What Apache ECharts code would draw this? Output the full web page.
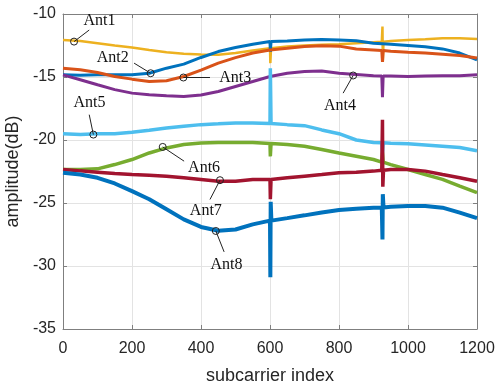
<!DOCTYPE html>
<html>
<head>
<meta charset="utf-8">
<script src="https://cdn.jsdelivr.net/npm/echarts@6/dist/echarts.min.js"></script>
<style>
  html, body { margin: 0; padding: 0; background: #fff; }
  #box { width: 499px; height: 384px; }
</style>
</head>
<body>
<div id="box"></div>
<script>
const subcarriers = [0, 50, 100, 150, 200, 250, 300, 350, 400, 450, 500, 550, 600,
  650, 700, 750, 800, 850, 900, 950, 1000, 1050, 1100, 1150, 1200];

// amplitude (dB) of each antenna
const ant1 = [-12.06, -12.14, -12.32, -12.5, -12.66, -12.85, -13.03, -13.16, -13.22, -13.24, -13.1, -12.9, -12.72,
  -12.58, -12.5, -12.45, -12.4, -12.32, -12.24, -12.15, -12.06, -12.0, -11.93, -11.93, -11.98];
const ant2 = [-14.83, -14.86, -14.83, -14.83, -14.83, -14.7, -14.3, -13.98, -13.45, -12.98, -12.66, -12.4, -12.19,
  -12.14, -12.06, -12.02, -12.06, -12.12, -12.32, -12.4, -12.5, -12.6, -12.77, -13.1, -13.64];
const ant3 = [-14.3, -14.43, -14.64, -14.96, -15.17, -15.36, -15.3, -14.96, -14.45, -13.9, -13.46, -13.1, -12.85,
  -12.72, -12.58, -12.52, -12.55, -12.77, -12.85, -12.95, -13.03, -13.1, -13.19, -13.3, -13.5];
const ant4 = [-14.83, -15.22, -15.62, -16.0, -16.28, -16.4, -16.49, -16.54, -16.43, -16.15, -15.75, -15.36, -14.96,
  -14.7, -14.56, -14.52, -14.7, -14.8, -14.9, -14.93, -14.96, -14.93, -14.9, -14.9, -14.83];
const ant5 = [-19.5, -19.57, -19.5, -19.5, -19.39, -19.23, -19.04, -18.9, -18.78, -18.72, -18.65, -18.65, -18.7,
  -18.78, -18.86, -19.2, -19.5, -20.0, -20.2, -20.25, -20.3, -20.4, -20.5, -20.6, -20.85];
const ant6 = [-22.34, -22.34, -22.29, -21.95, -21.55, -21.03, -20.63, -20.36, -20.23, -20.2, -20.2, -20.2, -20.28,
  -20.35, -20.5, -20.75, -21.03, -21.29, -21.55, -21.95, -22.34, -22.74, -23.13, -23.66, -24.18];
const ant7 = [-22.34, -22.45, -22.55, -22.65, -22.74, -22.8, -22.87, -23.0, -23.13, -23.27, -23.27, -23.13, -23.13,
  -23.0, -22.87, -22.74, -22.6, -22.55, -22.47, -22.34, -22.34, -22.47, -22.74, -23.0, -23.27];
const ant8 = [-22.6, -22.74, -23.0, -23.45, -24.06, -24.7, -25.5, -26.3, -26.9, -27.2, -27.1, -26.7, -26.4,
  -26.2, -25.98, -25.75, -25.55, -25.45, -25.37, -25.3, -25.24, -25.24, -25.37, -25.77, -26.2];

// narrow spikes near subcarrier 600 and 925, [subcarrier, dB]
const spikes1 = [[601, -13.9], [603, -12.72], [924, -12.2], [926, -11.0], [927, -13.8], [929, -12.2]];
const spikes2 = [[601, -13.0], [603, -12.19]];
const spikes3 = [[924, -12.9], [926, -13.8], [928, -12.9]];
const spikes4 = [[924, -14.92], [926, -16.6], [928, -14.92]];
const spikes5 = [[601, -14.3], [603, -18.7], [924, -20.22], [926, -21.0], [928, -20.22]];
const spikes6 = [[601, -21.3], [603, -20.28], [924, -21.75], [926, -21.0], [928, -21.75]];
const spikes7 = [[601, -24.7], [603, -23.13], [924, -22.4], [926, -18.4], [927, -23.7], [929, -22.4]];
const spikes8 = [[601, -30.9], [602, -24.9], [604, -26.4], [924, -25.35], [926, -27.9], [927, -24.3], [929, -25.35]];

const names = ['Ant1', 'Ant2', 'Ant3', 'Ant4', 'Ant5', 'Ant6', 'Ant7', 'Ant8'];
const colors = ['#EDB120', '#0072BD', '#D95319', '#7E2F8E', '#4DBEEE', '#77AC30', '#A2142F', '#0072BD'];
const widths = [2.5, 3, 3, 3, 3.5, 3.5, 3.5, 4];

// annotation: circle on the curve, arrow tip, text centre (data coords)
const annotations = [
  { name: 'Ant1', circle: [32, -12.19], tip: [76, -11.27], text: [106, -10.55] },
  { name: 'Ant2', circle: [254, -14.7], tip: [206, -13.9], text: [144, -13.45] },
  { name: 'Ant3', circle: [349, -15.04], tip: [426, -15.04], text: [499, -15.09] },
  { name: 'Ant4', circle: [841, -14.88], tip: [812, -16.28], text: [803, -17.32] },
  { name: 'Ant5', circle: [88, -19.57], tip: [76, -17.99], text: [77, -17.07] },
  { name: 'Ant6', circle: [289, -20.55], tip: [351, -21.68], text: [409, -22.2] },
  { name: 'Ant7', circle: [455, -23.19], tip: [426, -24.72], text: [414, -25.64] },
  { name: 'Ant8', circle: [443, -27.22], tip: [467, -28.88], text: [474, -29.94] }
];

function merge(vals, spikes) {
  const pts = subcarriers.map((s, i) => [s, vals[i]]).concat(spikes);
  pts.sort((a, b) => a[0] - b[0]);
  return pts;
}

const allData = [
  merge(ant1, spikes1), merge(ant2, spikes2), merge(ant3, spikes3), merge(ant4, spikes4),
  merge(ant5, spikes5), merge(ant6, spikes6), merge(ant7, spikes7), merge(ant8, spikes8)
];

const sansFont = '"Liberation Sans", Arial, sans-serif';
const serifFont = '"Liberation Serif", "Times New Roman", serif';
const axisColor = '#7f7f7f';

let myCharts = echarts.init(document.getElementById('box'));

let series = allData.map((d, i) => ({
  name: names[i],
  type: 'line',
  data: d,
  showSymbol: false,
  symbol: 'none',
  lineStyle: { color: colors[i], width: widths[i] },
  itemStyle: { color: colors[i] },
  silent: true
}));

// circles, arrows and labels
series.push({
  type: 'line',
  data: [],
  silent: true,
  z: 10,
  markLine: {
    silent: true,
    symbol: ['none', 'arrow'],
    symbolSize: [0, 7],
    lineStyle: { color: '#222', width: 1, type: 'solid' },
    label: { show: false },
    data: annotations.map(a => [{ coord: a.circle }, { coord: a.tip }])
  },
  markPoint: {
    silent: true,
    data: annotations.map(a => ({
      coord: a.circle,
      symbol: 'circle',
      symbolSize: 7,
      itemStyle: { color: 'rgba(0,0,0,0)', borderColor: '#222', borderWidth: 1 },
      label: { show: false }
    })).concat(annotations.map(a => ({
      coord: a.text,
      symbol: 'rect',
      symbolSize: 1,
      itemStyle: { color: 'rgba(0,0,0,0)' },
      label: {
        show: true,
        position: 'inside',
        formatter: a.name,
        fontFamily: serifFont,
        fontSize: 16,
        color: '#111'
      }
    })))
  }
});

let option = {
  animation: false,
  backgroundColor: '#fff',
  grid: { left: 63, right: 22, top: 14, bottom: 55, containLabel: false, outerBoundsMode: 'none' },
  xAxis: [
    {
      type: 'value',
      min: 0,
      max: 1200,
      interval: 200,
      name: 'subcarrier index',
      nameLocation: 'middle',
      nameGap: 38,
      nameTextStyle: { fontFamily: sansFont, fontSize: 18, color: '#262626' },
      axisLine: { show: true, onZero: false, lineStyle: { color: axisColor } },
      axisTick: { show: true, inside: true, length: 4, lineStyle: { color: axisColor } },
      axisLabel: { margin: 12, fontFamily: sansFont, fontSize: 16, color: '#262626', formatter: v => String(v) },
      splitLine: { show: true, lineStyle: { color: '#e3e3e3', width: 1 } }
    },
    {
      type: 'value',
      position: 'top',
      min: 0,
      max: 1200,
      interval: 200,
      axisLine: { show: true, onZero: false, lineStyle: { color: axisColor } },
      axisTick: { show: true, inside: true, length: 4, lineStyle: { color: axisColor } },
      axisLabel: { show: false },
      splitLine: { show: false }
    }
  ],
  yAxis: [
    {
      type: 'value',
      min: -35,
      max: -10,
      interval: 5,
      name: 'amplitude(dB)',
      nameLocation: 'middle',
      nameGap: 34,
      nameTextStyle: { fontFamily: sansFont, fontSize: 18, color: '#262626' },
      axisLine: { show: true, onZero: false, lineStyle: { color: axisColor } },
      axisTick: { show: true, inside: true, length: 4, lineStyle: { color: axisColor } },
      axisLabel: { margin: 7, fontFamily: sansFont, fontSize: 16, color: '#262626' },
      splitLine: { show: true, lineStyle: { color: '#e3e3e3', width: 1 } }
    },
    {
      type: 'value',
      position: 'right',
      min: -35,
      max: -10,
      interval: 5,
      axisLine: { show: true, onZero: false, lineStyle: { color: axisColor } },
      axisTick: { show: true, inside: true, length: 4, lineStyle: { color: axisColor } },
      axisLabel: { show: false },
      splitLine: { show: false }
    }
  ],
  series: series
};

myCharts.setOption(option);
</script>
</body>
</html>
